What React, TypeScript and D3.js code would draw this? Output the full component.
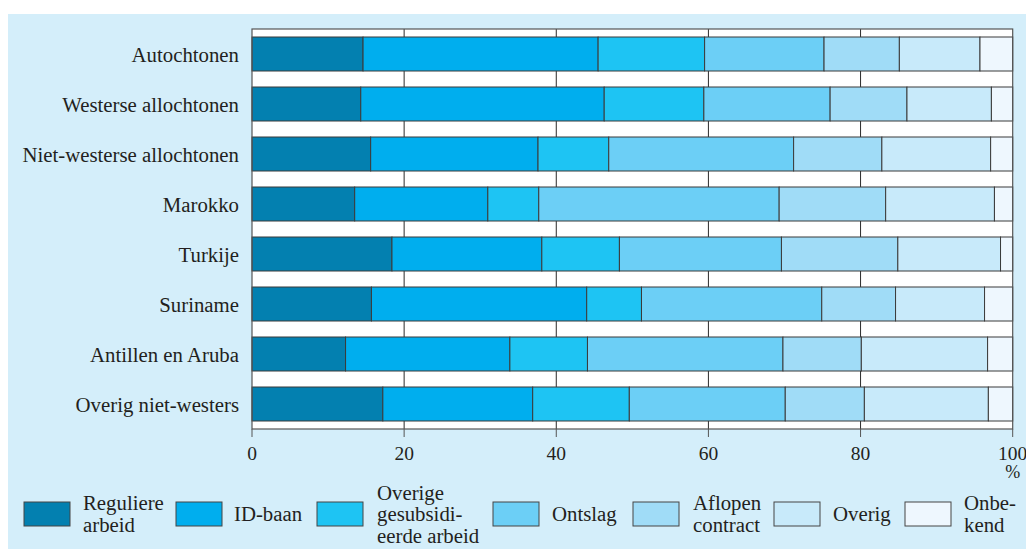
import React from "react";
import * as d3 from "d3";

const categories = [
  "Autochtonen",
  "Westerse allochtonen",
  "Niet-westerse allochtonen",
  "Marokko",
  "Turkije",
  "Suriname",
  "Antillen en Aruba",
  "Overig niet-westers",
];

const seriesNames = [
  "Reguliere arbeid",
  "ID-baan",
  "Overige gesubsidieerde arbeid",
  "Ontslag",
  "Aflopen contract",
  "Overig",
  "Onbekend",
];

const legendLines = [
  ["Reguliere", "arbeid"],
  ["ID-baan"],
  ["Overige", "gesubsidi-", "eerde arbeid"],
  ["Ontslag"],
  ["Aflopen", "contract"],
  ["Overig"],
  ["Onbe-", "kend"],
];

const reguliereArbeid = [14.6, 14.3, 15.6, 13.5, 18.4, 15.7, 12.3, 17.2];
const idBaan = [30.9, 32.0, 22.0, 17.5, 19.7, 28.3, 21.6, 19.7];
const overigeGesubsidieerd = [14.0, 13.1, 9.3, 6.7, 10.2, 7.2, 10.2, 12.7];
const ontslag = [15.7, 16.6, 24.3, 31.6, 21.3, 23.7, 25.7, 20.5];
const aflopenContract = [9.9, 10.1, 11.6, 14.0, 15.3, 9.7, 10.3, 10.4];
const overig = [10.6, 11.1, 14.3, 14.3, 13.5, 11.7, 16.6, 16.3];
const onbekend = [4.3, 2.8, 2.9, 2.4, 1.6, 3.7, 3.3, 3.2];

const seriesValues = [
  reguliereArbeid,
  idBaan,
  overigeGesubsidieerd,
  ontslag,
  aflopenContract,
  overig,
  onbekend,
];

const xTicks = [0, 20, 40, 60, 80, 100];

const colors = [
  "#0380b0",
  "#00aeee",
  "#1ec4f3",
  "#6ccff6",
  "#a0dcf7",
  "#c8eafa",
  "#eef7fe",
];

const legendBoxX = [24, 176, 317, 493, 633, 774, 905];
const legendTextX = [83, 234, 377, 552, 693, 833, 964];

export default function App() {
  const W = 1026;
  const H = 549;
  const left = 252;
  const right = 1012.7;
  const top = 29;
  const bottom = 429;
  const font = "'Liberation Serif', 'Times New Roman', serif";
  const textColor = "#231f20";

  const x = d3.scaleLinear().domain([0, 100]).range([left, right]);
  const y = d3
    .scaleBand<string>()
    .domain(categories)
    .range([top, bottom])
    .paddingInner(0.32)
    .paddingOuter(0.16);

  const table = categories.map((c, i) => {
    const row: any = { cat: c };
    seriesNames.forEach((s, j) => (row[s] = seriesValues[j][i]));
    return row;
  });
  const stacked = d3.stack<any>().keys(seriesNames)(table);

  return (
    <svg
      width={W}
      height={H}
      style={{ position: "absolute", left: 0, top: 0, display: "block" }}
    >
      <rect x={0} y={0} width={W} height={H} fill="#ffffff" />
      <rect x={8} y={14} width={W - 8} height={H - 14} fill="#d4eefa" />
      <rect x={left} y={top} width={right - left} height={bottom - top} fill="#ffffff" />
      {xTicks.slice(1, -1).map((t) => (
        <line
          key={"g" + t}
          x1={x(t)}
          x2={x(t)}
          y1={top}
          y2={bottom}
          stroke="#2a2a2a"
          strokeWidth={1}
        />
      ))}
      {stacked.map((layer, j) =>
        layer.map((d, i) => (
          <rect
            key={j + "-" + i}
            x={x(d[0])}
            y={y(categories[i])}
            width={x(d[1]) - x(d[0])}
            height={y.bandwidth()}
            fill={colors[j]}
            stroke="#3a3a3a"
            strokeWidth={1}
          />
        ))
      )}
      <rect
        x={left}
        y={top}
        width={right - left}
        height={bottom - top}
        fill="none"
        stroke="#555"
        strokeWidth={1.2}
      />
      {xTicks.map((t) => (
        <g key={"t" + t}>
          <line x1={x(t)} x2={x(t)} y1={bottom} y2={bottom + 8} stroke="#555" strokeWidth={1} />
          <text
            x={x(t)}
            y={460}
            textAnchor="middle"
            fontFamily={font}
            fontSize={19.5}
            fill={textColor}
          >
            {t}
          </text>
        </g>
      ))}
      <text x={x(100)} y={478} textAnchor="middle" fontFamily={font} fontSize={18} fill={textColor}>
        %
      </text>
      {categories.map((c) => (
        <text
          key={c}
          x={239}
          y={(y(c) as number) + y.bandwidth() / 2 + 7.5}
          textAnchor="end"
          fontFamily={font}
          fontSize={20.8}
          fill={textColor}
        >
          {c}
        </text>
      ))}
      {seriesNames.map((s, j) => {
        const lines = legendLines[j];
        const lh = 21.5;
        const base = 521 - ((lines.length - 1) * lh) / 2;
        return (
          <g key={s}>
            <rect
              x={legendBoxX[j]}
              y={502}
              width={46}
              height={24}
              fill={colors[j]}
              stroke="#444"
              strokeWidth={1}
            />
            <text fontFamily={font} fontSize={20.8} fill={textColor}>
              {lines.map((l, k) => (
                <tspan key={k} x={legendTextX[j]} y={base + k * lh}>
                  {l}
                </tspan>
              ))}
            </text>
          </g>
        );
      })}
    </svg>
  );
}
